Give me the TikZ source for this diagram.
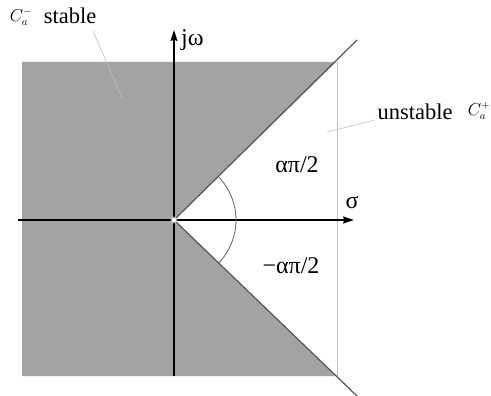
\documentclass[tikz,border=0pt]{standalone}
\usepackage{fontspec}
\setmainfont{Liberation Serif}
\usetikzlibrary{arrows.meta}
\definecolor{regiongray}{RGB}{163,163,163}
\definecolor{edgegray}{RGB}{85,85,85}
\definecolor{lightline}{RGB}{190,190,190}
\definecolor{arcgray}{RGB}{95,95,95}
\begin{document}
\begin{tikzpicture}[x=1pt,y=-1pt,
  axis/.style={line width=1.6pt,black,-{Stealth[length=11pt,width=7pt,inset=1.5pt]}},
  leader/.style={line width=0.6pt,lightline},
  lbl/.style={inner sep=0pt,font=\fontsize{22.5}{25}\selectfont},
  glbl/.style={inner sep=0pt,font=\fontsize{24}{26}\selectfont},
  clbl/.style={inner sep=0pt,font=\fontsize{16}{18}\selectfont},
  region/.style={fill=regiongray,draw=none}]
\useasboundingbox (0,0) rectangle (491,396);
\coordinate (O) at (174,220);
\coordinate (TR) at (336,62);
\coordinate (BR) at (336,376);
\coordinate (TL) at (22,62);
\coordinate (BL) at (22,376);
\coordinate (UE) at (357,40);
\coordinate (LE) at (357,396);
% stable region
\path[region] (TL) -- (TR) -- (O) -- (BR) -- (BL) -- cycle;
% vertical boundary line
\coordinate (VT) at (337,62);
\coordinate (VB) at (337,376);
\draw[line width=0.8pt,lightline] (VT) -- (VB);
% boundary rays
\draw[line width=1.2pt,edgegray] (O) -- (UE);
\draw[line width=1.2pt,edgegray] (O) -- (LE);
% axes
\coordinate (XS) at (18,220);
\coordinate (XE) at (354,220);
\coordinate (YS) at (174,376);
\coordinate (YE) at (174,30);
\draw[axis] (XS) -- (XE);
\draw[axis] (YS) -- (YE);
% angle arcs
\draw[line width=0.8pt,arcgray] (O) ++(0:62) arc[start angle=0,end angle=-44,radius=62];
\draw[line width=0.8pt,arcgray] (O) ++(0:62) arc[start angle=0,end angle=44,radius=62];
% origin
\node[circle,draw=white,fill=white,line width=0.6pt,minimum size=6pt,inner sep=0pt] (orig) at (O) {};
\draw[line width=0.6pt,gray] (O) circle[radius=2.6];
% labels
\node[glbl,anchor=west] (jw) at (181,40) {jω};
\node[glbl] (sig) at (352,202) {σ};
\node[glbl] (ap) at (297,165) {απ/2};
\node[glbl] (map) at (291,266) {−απ/2};
\node[lbl] (st) at (70,16) {stable};
\node[clbl] (cm) at (21,17) {$C_a^-$};
\node[lbl] (ust) at (415,112) {unstable};
\node[clbl] (cp) at (479,111) {$C_a^+$};
% leaders
\coordinate (st1) at (93,31);
\coordinate (st2) at (122,98);
\draw[leader] (st1) -- (st2);
\coordinate (us1) at (375,120);
\coordinate (us2) at (327,132);
\draw[leader] (us1) -- (us2);
\end{tikzpicture}
\end{document}
